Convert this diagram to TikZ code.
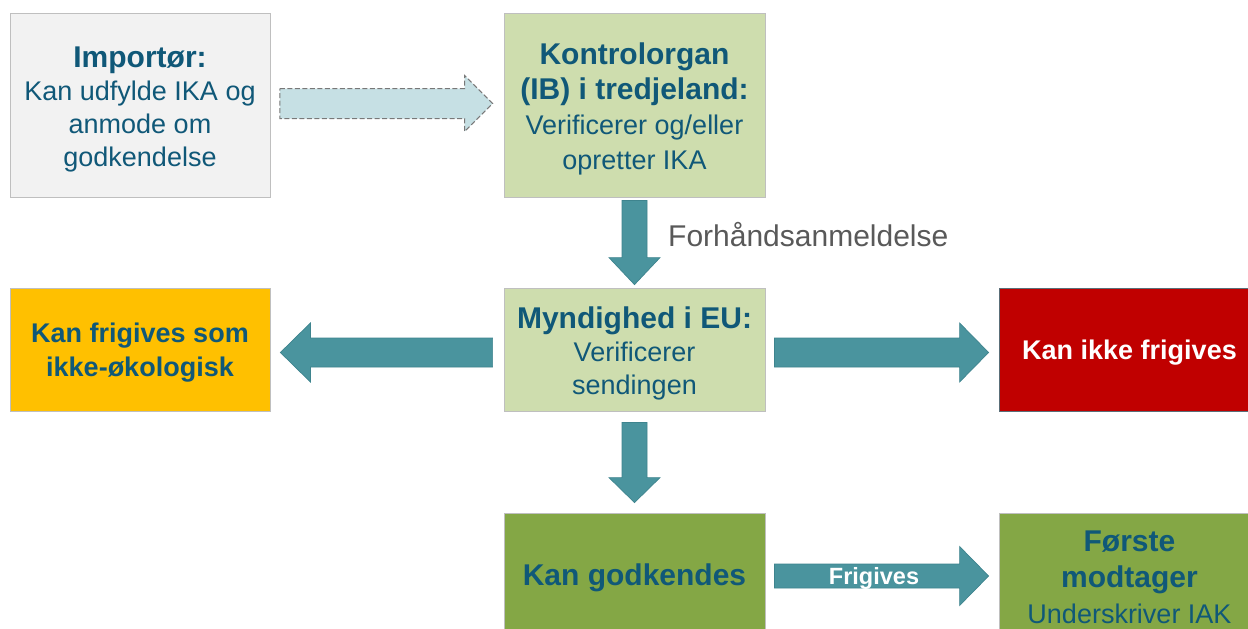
\documentclass[tikz,border=0pt]{standalone}
\usepackage{fontspec}
\setmainfont{Liberation Sans}
\usetikzlibrary{calc}
\definecolor{txt}{RGB}{16,88,120}
\definecolor{grayfill}{RGB}{242,242,242}
\definecolor{boxline}{RGB}{191,191,191}
\definecolor{lightgreen}{RGB}{206,221,174}
\definecolor{olive}{RGB}{132,167,69}
\definecolor{orangefill}{RGB}{255,192,0}
\definecolor{redfill}{RGB}{192,0,0}
\definecolor{redline}{RGB}{90,110,120}
\definecolor{tealarrow}{RGB}{74,148,158}
\definecolor{tealline}{RGB}{62,132,142}
\definecolor{paleblue}{RGB}{198,224,228}
\definecolor{dashline}{RGB}{120,120,120}
\definecolor{labelgray}{RGB}{89,89,89}
\newcommand\rblockarrow[6]{% style, start, tip, shaft half, head half, head length
  \draw[#1] ($(#2)+(0,-#4)$) -- ($(#3)+(-#6,-#4)$) -- ($(#3)+(-#6,-#5)$) -- (#3)
    -- ($(#3)+(-#6,#5)$) -- ($(#3)+(-#6,#4)$) -- ($(#2)+(0,#4)$) -- cycle;}
\newcommand\lblockarrow[6]{%
  \draw[#1] ($(#2)+(0,-#4)$) -- ($(#3)+(#6,-#4)$) -- ($(#3)+(#6,-#5)$) -- (#3)
    -- ($(#3)+(#6,#5)$) -- ($(#3)+(#6,#4)$) -- ($(#2)+(0,#4)$) -- cycle;}
\newcommand\dblockarrow[6]{%
  \draw[#1] ($(#2)+(-#4,0)$) -- ($(#3)+(-#4,-#6)$) -- ($(#3)+(-#5,-#6)$) -- (#3)
    -- ($(#3)+(#5,-#6)$) -- ($(#3)+(#4,-#6)$) -- ($(#2)+(#4,0)$) -- cycle;}
\tikzset{
  box/.style={draw=boxline, line width=0.8pt, minimum width=261, minimum height=184,
    inner sep=0pt},
  midbox/.style={box, minimum height=123},
  boxtext/.style={align=center, text=txt, inner sep=0pt, font=\fontsize{27}{33}\selectfont},
  tealarr/.style={fill=tealarrow, draw=tealline, line width=0.7pt},
  dasharr/.style={fill=paleblue, draw=dashline, line width=1pt, dash pattern=on 5pt off 2.5pt}
}
\begin{document}
\begin{tikzpicture}[x=1pt,y=-1pt]
\useasboundingbox (0,0) rectangle (1248,629);
\fill[white] (0,0) rectangle (1248,629);
% boxes
\node[box, fill=grayfill, minimum width=260] (imp) at (140,105) {};
\node[boxtext] (imptxt) at ($(imp)+(0,4)$)
  {{\fontsize{30}{33}\selectfont\bfseries Importør:}\\Kan udfylde IKA og\\anmode om\\godkendelse};
\node[box, fill=lightgreen] (kon) at (634.5,105) {};
\node[boxtext, font=\fontsize{27}{35}\selectfont] (kontxt) at ($(kon)+(0,4)$)
  {{\fontsize{30}{35}\selectfont\bfseries Kontrolorgan}\\{\fontsize{30}{35}\selectfont\bfseries (IB) i tredjeland:}\\Verificerer og/eller\\opretter IKA};
\node[midbox, fill=lightgreen] (mynd) at (634.5,349.5) {};
\node[boxtext] (myndtxt) at ($(mynd)+(0,4)$)
  {{\fontsize{30}{33}\selectfont\bfseries Myndighed i EU:}\\Verificerer\\sendingen};
\node[midbox, fill=orangefill, minimum width=260] (ork) at (140,349.5) {};
\node[boxtext, font=\fontsize{27}{34}\selectfont\bfseries] (orktxt) at ($(ork)+(0,3)$)
  {Kan frigives som\\ikke-økologisk};
\node[midbox, fill=redfill, draw=redline] (red) at (1129.5,349.5) {};
\node[boxtext, text=white, font=\fontsize{27}{33}\selectfont\bfseries] (redtxt) at ($(red)+(0,3)$)
  {Kan ikke frigives};
\node[midbox, fill=olive] (god) at (634.5,574.5) {};
\node[boxtext, font=\fontsize{30}{33}\selectfont\bfseries] (godtxt) at ($(god)+(0,3)$)
  {Kan godkendes};
\node[midbox, fill=olive] (forste) at (1129.5,574.5) {};
\node[boxtext, font=\fontsize{27}{36}\selectfont] (forstetxt) at ($(forste)+(0,2.5)$)
  {{\fontsize{30}{36}\selectfont\bfseries Første}\\{\fontsize{30}{36}\selectfont\bfseries modtager}\\Underskriver IAK};
% arrows
\coordinate (a1s) at ($(imp.east)+(9.5,-1.5)$);
\coordinate (a1t) at ($(kon.west)+(-11,-1.5)$);
\rblockarrow{dasharr}{a1s}{a1t}{15}{28}{28}
\coordinate (a2s) at ($(kon.south)+(0,3)$);
\coordinate (a2t) at ($(mynd.north)+(0,-3)$);
\dblockarrow{tealarr}{a2s}{a2t}{12.5}{25.5}{27}
\node[anchor=west, text=labelgray, inner sep=0pt, font=\fontsize{30}{33}\selectfont] (lbl) at (668,235) {Forhåndsanmeldelse};
\coordinate (a3s) at ($(mynd.west)+(-11,3)$);
\coordinate (a3t) at ($(ork.east)+(10,3)$);
\lblockarrow{tealarr}{a3s}{a3t}{14.5}{29.5}{30}
\coordinate (a4s) at ($(mynd.east)+(9,3)$);
\coordinate (a4t) at ($(red.west)+(-10,3)$);
\rblockarrow{tealarr}{a4s}{a4t}{14.5}{29.5}{29}
\coordinate (a5s) at ($(mynd.south)+(0,11)$);
\coordinate (a5t) at ($(god.north)+(0,-10)$);
\dblockarrow{tealarr}{a5s}{a5t}{12.5}{25.5}{25}
\coordinate (a6s) at ($(god.east)+(9,1.5)$);
\coordinate (a6t) at ($(forste.west)+(-10,1.5)$);
\rblockarrow{tealarr}{a6s}{a6t}{12}{29.5}{29}
\node[text=white, inner sep=0pt, font=\fontsize{23.5}{26}\selectfont\bfseries] (frig) at (874,578) {Frigives};
\end{tikzpicture}
\end{document}
